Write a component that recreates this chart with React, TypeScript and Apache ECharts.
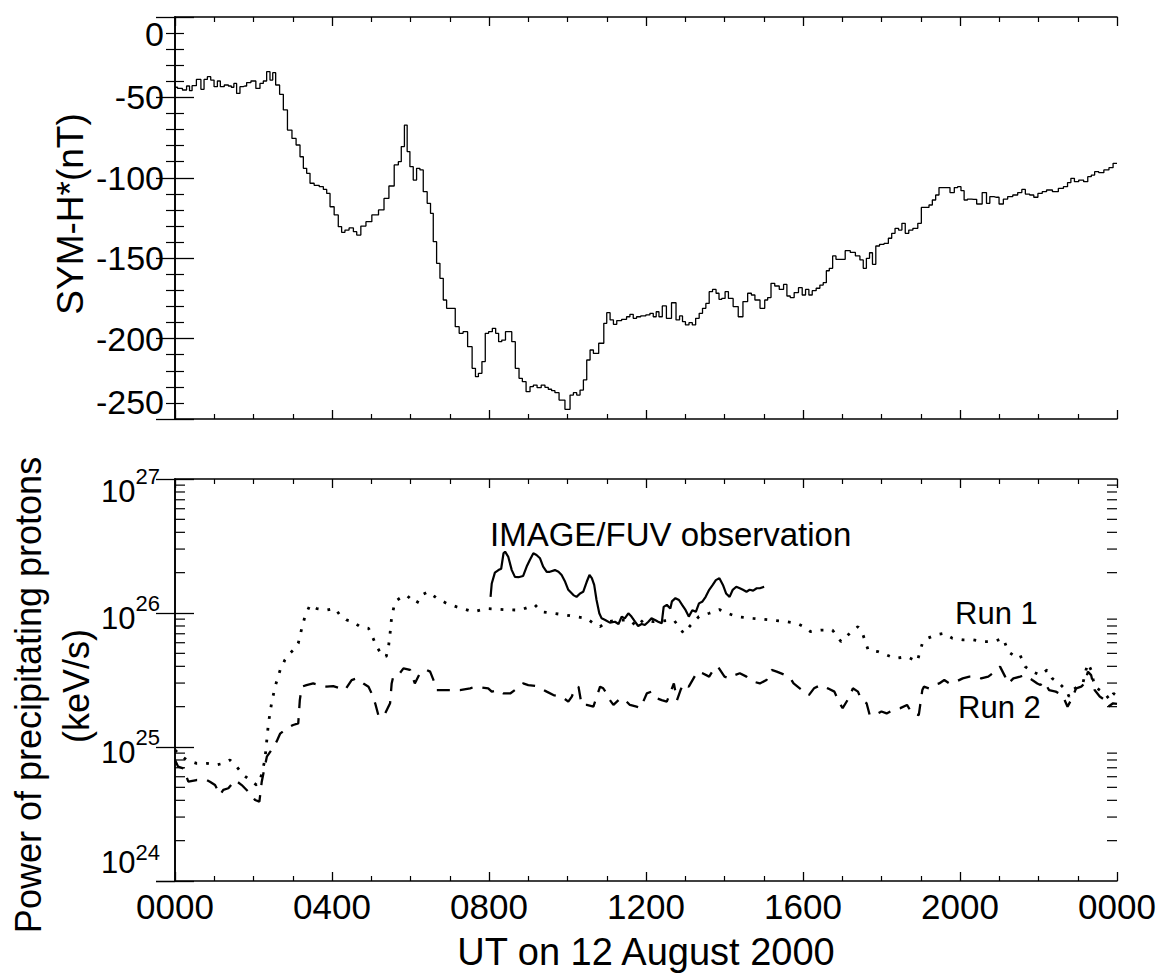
import React, { useEffect, useRef } from 'react';
import * as echarts from 'echarts';

const FONT = '"Liberation Sans", Arial, Helvetica, sans-serif';

// x tick labels (UT hours, every 4 h)
const xTickLabels = ['0000', '0400', '0800', '1200', '1600', '2000', '0000'];

// SYM-H* (nT), 5-min steps
const symHours = [0.00,0.13,0.25,0.34,0.40,0.47,0.62,0.70,0.78,0.87,0.95,1.04,1.12,1.19,1.32,1.40,1.47,1.53,1.61,1.70,1.78,1.87,2.00,2.12,2.21,2.29,2.38,2.46,2.52,2.61,2.72,2.80,2.93,3.03,3.14,3.23,3.31,3.40,3.48,3.61,3.74,3.82,3.91,3.99,4.12,4.20,4.29,4.37,4.50,4.59,4.67,4.80,4.93,5.10,5.27,5.38,5.52,5.65,5.73,5.80,5.89,5.94,6.03,6.11,6.20,6.28,6.37,6.48,6.54,6.62,6.71,6.79,6.88,6.96,7.09,7.19,7.29,7.39,7.52,7.62,7.69,7.77,7.87,7.94,8.04,8.13,8.21,8.28,8.37,8.47,8.54,8.62,8.72,8.81,8.89,9.00,9.09,9.17,9.28,9.38,9.47,9.55,9.64,9.72,9.85,10.02,10.11,10.19,10.28,10.36,10.45,10.53,10.62,10.70,10.89,10.96,11.04,11.13,11.21,11.30,11.46,11.55,11.63,11.72,11.80,11.93,12.06,12.14,12.23,12.29,12.37,12.46,12.58,12.72,12.81,12.90,12.96,13.05,13.14,13.22,13.31,13.40,13.48,13.57,13.65,13.74,13.83,13.89,13.97,14.06,14.14,14.30,14.40,14.54,14.64,14.73,14.82,14.99,15.06,15.14,15.23,15.33,15.46,15.55,15.63,15.72,15.83,15.94,16.02,16.11,16.19,16.28,16.39,16.47,16.56,16.63,16.71,16.80,16.88,17.01,17.14,17.27,17.40,17.50,17.57,17.66,17.73,17.81,17.90,18.00,18.13,18.22,18.30,18.39,18.48,18.56,18.65,18.74,18.86,18.99,19.04,19.17,19.25,19.34,19.42,19.51,19.68,19.81,19.90,19.98,20.07,20.14,20.24,20.35,20.50,20.63,20.72,20.80,20.93,21.06,21.15,21.28,21.41,21.53,21.62,21.71,21.84,21.92,22.05,22.14,22.27,22.44,22.57,22.70,22.78,22.87,22.96,23.09,23.21,23.30,23.39,23.47,23.60,23.73,23.86,23.94,24.00];
const symValues = [-43.7,-44.4,-45.4,-42.9,-45.8,-42.7,-38.8,-45.0,-38.8,-37.1,-39.2,-43.3,-39.8,-43.3,-42.3,-42.9,-43.7,-41.3,-47.5,-43.3,-42.9,-40.8,-39.8,-44.4,-41.3,-39.8,-34.0,-39.2,-34.6,-42.3,-48.1,-57.8,-70.3,-75.5,-79.6,-86.9,-94.1,-97.2,-103.4,-104.7,-105.5,-107.2,-109.7,-118.0,-123.1,-130.4,-133.9,-132.5,-131.2,-133.5,-135.6,-130.0,-127.3,-123.1,-120.0,-112.8,-105.1,-92.0,-90.0,-80.6,-67.2,-83.7,-93.1,-101.4,-94.1,-95.1,-108.6,-115.9,-122.1,-139.7,-153.2,-162.5,-176.0,-181.2,-181.2,-192.6,-196.7,-195.7,-205.0,-218.5,-223.7,-221.6,-214.3,-196.7,-195.7,-193.6,-196.7,-201.9,-200.9,-195.7,-195.7,-201.9,-218.5,-224.7,-226.8,-233.0,-229.9,-228.9,-230.5,-228.9,-230.3,-231.5,-232.4,-233.6,-238.2,-244.0,-235.1,-233.6,-235.1,-232.0,-225.7,-213.3,-207.1,-209.2,-202.9,-190.5,-183.9,-188.4,-191.1,-188.8,-188.0,-186.4,-184.9,-187.4,-186.4,-185.9,-185.3,-184.3,-186.4,-183.3,-186.4,-179.7,-187.4,-177.7,-188.4,-185.9,-189.5,-191.5,-190.1,-191.5,-187.4,-184.3,-181.2,-178.1,-170.8,-169.4,-171.8,-175.6,-175.0,-170.8,-175.0,-180.1,-186.4,-177.0,-171.8,-172.9,-176.0,-181.2,-176.0,-174.5,-165.6,-167.3,-169.4,-166.3,-173.5,-174.5,-171.4,-168.3,-172.9,-169.4,-172.9,-170.2,-168.7,-166.7,-165.2,-157.8,-156.3,-148.6,-150.7,-150.7,-145.3,-146.4,-148.6,-151.1,-156.3,-150.1,-146.6,-153.8,-142.4,-141.4,-140.8,-137.6,-134.5,-131.4,-132.5,-128.3,-134.5,-132.5,-131.4,-128.3,-118.4,-118.4,-116.9,-113.8,-110.7,-106.1,-106.1,-109.2,-106.1,-105.5,-108.0,-113.8,-113.2,-113.4,-116.3,-109.2,-115.9,-111.7,-112.1,-116.3,-113.2,-111.7,-110.7,-109.2,-107.2,-110.1,-110.7,-112.1,-109.7,-108.6,-107.6,-108.6,-106.6,-105.5,-103.0,-100.3,-102.4,-101.4,-102.4,-99.3,-98.3,-96.2,-96.8,-95.1,-93.7,-91.0,-91.0];

// IMAGE/FUV observation (keV/s)
const fuvHours = [8.04,8.07,8.15,8.24,8.31,8.37,8.41,8.49,8.58,8.66,8.75,8.87,8.96,9.04,9.13,9.21,9.30,9.38,9.47,9.55,9.68,9.77,9.85,9.94,10.02,10.15,10.23,10.32,10.40,10.49,10.56,10.62,10.68,10.74,10.81,10.87,10.96,11.08,11.21,11.30,11.38,11.46,11.55,11.63,11.72,11.80,11.89,11.97,12.06,12.14,12.23,12.31,12.40,12.45,12.53,12.62,12.66,12.75,12.84,12.92,13.01,13.09,13.18,13.27,13.35,13.44,13.52,13.61,13.70,13.78,13.87,13.96,14.04,14.13,14.21,14.30,14.39,14.47,14.56,14.64,14.73,14.82,14.90,15.01];
const fuvValues = [1.32e26,1.66e26,2.0e26,2.09e26,2.14e26,2.79e26,2.87e26,2.63e26,2.09e26,1.86e26,1.85e26,1.89e26,2.22e26,2.49e26,2.79e26,2.71e26,2.56e26,2.22e26,2.03e26,2.03e26,2.09e26,2.03e26,1.92e26,1.71e26,1.49e26,1.36e26,1.32e26,1.40e26,1.44e26,1.71e26,1.92e26,1.82e26,1.62e26,1.25e26,9.95e25,9.12e25,8.87e25,8.47e25,8.61e25,8.28e25,9.4e25,9.12e25,9.95e25,9.4e25,8.61e25,8.0e25,8.28e25,8.13e25,8.61e25,9.12e25,8.87e25,8.61e25,8.37e25,1.11e26,1.15e26,1.08e26,1.22e26,1.29e26,1.25e26,1.15e26,1.05e26,9.4e25,1.05e26,1.02e26,1.18e26,1.22e26,1.32e26,1.49e26,1.62e26,1.76e26,1.82e26,1.62e26,1.40e26,1.32e26,1.49e26,1.57e26,1.53e26,1.49e26,1.44e26,1.49e26,1.47e26,1.53e26,1.53e26,1.57e26];

// Run 1 (dotted)
const run1Hours = [0.00,0.13,0.30,0.55,0.81,1.06,1.23,1.40,1.57,1.74,1.91,2.08,2.17,2.29,2.38,2.46,2.55,2.68,2.80,2.93,3.06,3.14,3.23,3.31,3.44,3.61,3.86,4.08,4.20,4.37,4.54,4.71,4.93,5.01,5.14,5.27,5.38,5.44,5.48,5.52,5.61,5.73,5.90,6.03,6.16,6.28,6.45,6.67,6.92,7.18,7.60,7.94,8.37,8.79,9.17,9.34,9.64,10.06,10.49,10.66,10.83,11.00,11.34,11.59,11.76,11.93,12.19,12.71,12.96,13.14,13.35,13.61,13.87,14.08,14.30,14.73,15.16,15.59,15.85,16.02,16.19,16.45,16.75,16.97,17.19,17.40,17.53,17.66,17.92,18.13,18.35,18.65,18.91,19.04,19.17,19.38,19.60,19.81,20.07,20.33,20.59,20.85,21.10,21.23,21.41,21.53,21.66,21.84,22.05,22.22,22.35,22.53,22.70,22.78,22.87,23.00,23.13,23.21,23.26,23.34,23.43,23.56,23.69,23.82,23.91,24.00];
const run1Values = [9.5e24,8.71e24,8.0e24,7.55e24,7.55e24,7.35e24,7.55e24,8.0e24,7.13e24,6.18e24,5.67e24,5.2e24,5.67e24,8.0e24,1.5e25,2.12e25,2.82e25,3.76e25,4.47e25,5.0e25,5.45e25,5.94e25,7.69e25,9.4e25,1.15e26,1.08e26,1.05e26,1.08e26,9.66e25,8.87e25,8.61e25,7.91e25,7.69e25,6.86e25,5.61e25,4.86e25,4.72e25,5.61e25,7.05e25,9.4e25,1.22e26,1.29e26,1.36e26,1.25e26,1.18e26,1.36e26,1.44e26,1.29e26,1.18e26,1.11e26,1.02e26,1.08e26,1.06e26,1.05e26,1.15e26,1.02e26,9.95e25,9.55e25,9.12e25,8.37e25,7.91e25,8.61e25,8.87e25,8.87e25,7.91e25,8.87e25,8.61e25,8.87e25,7.05e25,8.13e25,9.4e25,9.95e25,1.06e26,9.95e25,9.4e25,9.12e25,8.87e25,8.61e25,8.37e25,7.91e25,7.26e25,7.46e25,7.46e25,6.11e25,7.05e25,7.91e25,6.86e25,5.3e25,5.14e25,4.86e25,4.59e25,4.72e25,4.34e25,5.94e25,6.47e25,6.86e25,7.05e25,6.47e25,6.3e25,6.3e25,6.11e25,6.11e25,6.47e25,5.14e25,4.72e25,4.86e25,3.98e25,3.65e25,3.44e25,3.76e25,3.25e25,2.98e25,2.66e25,2.38e25,2.66e25,2.82e25,2.98e25,3.76e25,4.21e25,3.76e25,2.82e25,2.66e25,2.51e25,2.24e25,2.51e25,2.4e25];

// Run 2 (dashed)
const run2Hours = [0.00,0.08,0.21,0.34,0.55,0.81,0.89,1.02,1.15,1.23,1.36,1.53,1.70,1.91,2.04,2.15,2.21,2.34,2.46,2.59,2.68,2.85,3.01,3.14,3.18,3.23,3.35,3.52,3.69,3.86,4.03,4.20,4.33,4.50,4.63,4.80,4.93,5.01,5.10,5.18,5.31,5.48,5.52,5.56,5.69,5.82,5.99,6.11,6.24,6.41,6.50,6.62,6.67,6.92,7.26,7.52,7.64,7.98,8.07,8.24,8.37,8.54,8.66,8.75,8.87,9.00,9.21,9.47,9.64,9.85,10.02,10.11,10.19,10.28,10.36,10.49,10.66,10.83,10.91,11.00,11.08,11.17,11.30,11.42,11.59,11.76,11.85,11.93,12.02,12.14,12.27,12.40,12.53,12.71,12.79,12.88,12.96,13.09,13.31,13.44,13.61,13.74,13.83,14.00,14.13,14.26,14.39,14.56,14.73,14.90,15.07,15.20,15.33,15.55,15.68,15.76,16.02,16.15,16.28,16.45,16.63,16.80,16.93,17.01,17.19,17.27,17.40,17.49,17.62,17.70,17.83,18.00,18.13,18.30,18.48,18.65,18.78,18.95,19.04,19.08,19.21,19.34,19.47,19.60,19.73,19.90,20.07,20.24,20.41,20.54,20.72,20.89,21.02,21.15,21.23,21.36,21.53,21.66,21.84,21.97,22.05,22.14,22.27,22.44,22.61,22.74,22.83,22.96,23.09,23.17,23.26,23.34,23.43,23.56,23.69,23.78,23.90,24.00];
const run2Values = [8.0e24,7.13e24,6.93e24,5.51e24,5.67e24,5.67e24,5.51e24,5.2e24,4.39e24,4.78e24,4.92e24,5.67e24,5.2e24,4.51e24,4.02e24,3.91e24,5.51e24,8.47e24,9.5e24,1.1e25,1.26e25,1.38e25,1.46e25,1.5e25,2.24e25,2.82e25,2.9e25,2.98e25,2.9e25,2.82e25,2.85e25,2.74e25,2.66e25,3.16e25,3.25e25,2.98e25,2.82e25,2.51e25,2.12e25,1.73e25,1.68e25,2.12e25,2.98e25,3.35e25,3.44e25,3.86e25,3.76e25,2.98e25,3.55e25,3.76e25,3.65e25,2.98e25,2.66e25,2.66e25,2.66e25,2.74e25,2.82e25,2.74e25,2.59e25,2.66e25,2.51e25,2.51e25,2.66e25,2.82e25,2.98e25,2.9e25,2.85e25,2.59e25,2.44e25,2.38e25,2.18e25,2.38e25,2.74e25,2.82e25,2.06e25,2.06e25,2.0e25,2.82e25,2.74e25,2.51e25,2.24e25,2.06e25,2.24e25,2.31e25,2.06e25,2.0e25,1.95e25,2.18e25,2.51e25,2.59e25,2.31e25,2.24e25,2.18e25,2.98e25,2.24e25,2.66e25,2.98e25,2.82e25,3.65e25,3.55e25,3.35e25,3.86e25,3.98e25,3.35e25,3.25e25,3.44e25,3.55e25,3.35e25,3.08e25,2.98e25,3.16e25,3.76e25,3.65e25,3.44e25,3.25e25,2.98e25,2.59e25,2.44e25,2.74e25,2.9e25,2.74e25,2.59e25,2.12e25,1.95e25,2.38e25,2.74e25,2.59e25,2.24e25,2.12e25,1.73e25,1.73e25,1.84e25,1.78e25,1.89e25,1.95e25,2.06e25,1.78e25,1.73e25,2.66e25,2.82e25,2.74e25,2.9e25,2.98e25,3.16e25,2.98e25,3.08e25,3.25e25,3.35e25,3.35e25,3.25e25,3.35e25,3.65e25,3.98e25,3.35e25,2.98e25,3.25e25,3.35e25,3.44e25,3.16e25,2.98e25,2.9e25,3.08e25,2.66e25,2.59e25,2.44e25,2.0e25,2.24e25,2.74e25,2.82e25,2.98e25,3.65e25,3.44e25,2.66e25,2.38e25,2.24e25,2.0e25,2.12e25,2.1e25];

// minor ticks of the log axis (2..9 per decade)
const logMinorTicks = [2e24,3e24,4e24,5e24,6e24,7e24,8e24,9e24,2e25,3e25,4e25,5e25,6e25,7e25,8e25,9e25,2e26,3e26,4e26,5e26,6e26,7e26,8e26,9e26];

export default function App() {
  const ref = useRef<HTMLDivElement>(null);

  useEffect(() => {
    const chart = echarts.init(ref.current as HTMLDivElement, null, { renderer: 'svg' });
    const zip = (a: number[], b: number[]) => a.map((h, i) => [h, b[i]]);
    const black = '#000';

    const xAxis = (gridIndex: number, position: string, showLabels: boolean) => ({
      type: 'value',
      gridIndex,
      position,
      min: 0,
      max: 24,
      interval: 4,
      axisLine: { show: true, onZero: false, lineStyle: { color: black, width: 1.6 } },
      axisTick: { show: true, inside: true, length: 9, lineStyle: { color: black, width: 1.3 } },
      minorTick: { show: true, splitNumber: 4, length: 5, lineStyle: { color: black, width: 1.2 } },
      splitLine: { show: false },
      minorSplitLine: { show: false },
      axisLabel: showLabels
        ? {
            show: true,
            margin: 8,
            color: black,
            fontSize: 35,
            fontFamily: FONT,
            formatter: (v: number) => xTickLabels[Math.round(v / 4)],
          }
        : { show: false },
    });

    const symAxis = (position: string, showLabels: boolean) => ({
      type: 'value',
      gridIndex: 0,
      position,
      min: -250,
      max: 0,
      interval: 50,
      axisLine: { show: true, lineStyle: { color: black, width: 1.6 } },
      axisTick: { show: true, inside: true, length: 19, lineStyle: { color: black, width: 1.3 } },
      minorTick: { show: true, splitNumber: 5, length: 9, lineStyle: { color: black, width: 1.2 } },
      splitLine: { show: false },
      minorSplitLine: { show: false },
      axisLabel: showLabels
        ? {
            show: true,
            margin: 11,
            color: black,
            fontSize: 34,
            fontFamily: FONT,
            verticalAlignMaxLabel: 'top',
            verticalAlignMinLabel: 'bottom',
          }
        : { show: false },
    });

    const b = { fontSize: 31, fontFamily: FONT, color: black };
    const s = { fontSize: 22, fontFamily: FONT, color: black, verticalAlign: 'top' };

    const logAxis = (position: string, showLabels: boolean) => ({
      type: 'log',
      logBase: 10,
      gridIndex: 1,
      position,
      min: 1e24,
      max: 1e27,
      axisLine: { show: true, lineStyle: { color: black, width: 1.6 } },
      axisTick: { show: true, inside: true, length: 19, lineStyle: { color: black, width: 1.3 } },
      minorTick: { show: false },
      splitLine: { show: false },
      axisLabel: showLabels
        ? {
            show: true,
            margin: 15,
            color: black,
            fontFamily: FONT,
            formatter: (v: number) => {
              const e = Math.round(Math.log10(v));
              if (e === 27) return `{bt|10}{st|${e}}`;
              if (e === 24) return `{bb|10}{sb|${e}}`;
              return `{b|10}{s|${e}}`;
            },
            rich: {
              b: { ...b, padding: [10, 0, 0, 0] },
              s,
              bt: { ...b, padding: [24, 0, 0, 0] },
              st: { ...s, padding: [14, 0, 0, 0] },
              bb: { ...b, padding: [10, 0, 48, 0] },
              sb: { ...s, padding: [5, 0, 0, 0] },
            },
          }
        : { show: false },
    });

    const textStyle = (size: number) => ({ fontSize: size, fontFamily: FONT, fill: black });

    const option: any = {
      animation: false,
      backgroundColor: '#fff',
      grid: [
        { left: 175, top: 17, width: 942, height: 402, outerBoundsMode: 'none', containLabel: false },
        { left: 175, top: 479, width: 942, height: 402, outerBoundsMode: 'none', containLabel: false },
      ],
      xAxis: [xAxis(0, 'bottom', false), xAxis(0, 'top', false), xAxis(1, 'bottom', true), xAxis(1, 'top', false)],
      yAxis: [symAxis('left', true), symAxis('right', false), logAxis('left', true), logAxis('right', false)],
      series: [
        {
          name: 'SYM-H*',
          type: 'line',
          xAxisIndex: 0,
          yAxisIndex: 0,
          step: 'middle',
          showSymbol: false,
          data: zip(symHours, symValues),
          lineStyle: { color: black, width: 1.3 },
        },
        {
          name: 'IMAGE/FUV observation',
          type: 'line',
          xAxisIndex: 2,
          yAxisIndex: 2,
          showSymbol: false,
          data: zip(fuvHours, fuvValues),
          lineStyle: { color: black, width: 2.2 },
        },
        {
          name: 'Run 1',
          type: 'line',
          xAxisIndex: 2,
          yAxisIndex: 2,
          showSymbol: false,
          data: zip(run1Hours, run1Values),
          lineStyle: { color: black, width: 2.8, type: [2.8, 9] },
        },
        {
          name: 'Run 2',
          type: 'line',
          xAxisIndex: 2,
          yAxisIndex: 2,
          showSymbol: false,
          data: zip(run2Hours, run2Values),
          lineStyle: { color: black, width: 2.3, type: [13, 10] },
        },
        {
          name: 'log minor ticks',
          type: 'custom',
          xAxisIndex: 2,
          yAxisIndex: 2,
          silent: true,
          clip: false,
          data: logMinorTicks.map((v) => [0, v]),
          renderItem: (params: any, api: any) => {
            const v = api.value(1);
            const l = api.coord([0, v]);
            const r = api.coord([24, v]);
            const st = { stroke: black, lineWidth: 1.2 };
            return {
              type: 'group',
              children: [
                { type: 'line', shape: { x1: l[0], y1: l[1], x2: l[0] + 10, y2: l[1] }, style: st },
                { type: 'line', shape: { x1: r[0] - 10, y1: r[1], x2: r[0], y2: r[1] }, style: st },
              ],
            };
          },
        },
      ],
      graphic: [
        {
          type: 'text',
          x: 70,
          y: 214,
          rotation: Math.PI / 2,
          style: { ...textStyle(37), text: 'SYM-H*(nT)', align: 'center', verticalAlign: 'middle' },
        },
        {
          type: 'text',
          x: 28,
          y: 695,
          rotation: Math.PI / 2,
          style: { ...textStyle(36), text: 'Power of precipitating protons', align: 'center', verticalAlign: 'middle' },
        },
        {
          type: 'text',
          x: 76,
          y: 686,
          rotation: Math.PI / 2,
          style: { ...textStyle(36), text: '(keV/s)', align: 'center', verticalAlign: 'middle' },
        },
        {
          type: 'text',
          x: 646,
          y: 952,
          style: { ...textStyle(38), text: 'UT on 12 August 2000', align: 'center', verticalAlign: 'middle' },
        },
        {
          type: 'text',
          x: 490,
          y: 534,
          style: { ...textStyle(33), text: 'IMAGE/FUV observation', align: 'left', verticalAlign: 'middle' },
        },
        {
          type: 'text',
          x: 955,
          y: 613,
          style: { ...textStyle(31), text: 'Run 1', align: 'left', verticalAlign: 'middle' },
        },
        {
          type: 'text',
          x: 958,
          y: 707,
          style: { ...textStyle(31), text: 'Run 2', align: 'left', verticalAlign: 'middle' },
        },
      ],
    };

    chart.setOption(option);
    return () => chart.dispose();
  }, []);

  return <div ref={ref} style={{ position: 'absolute', left: 0, top: 0, width: 1166, height: 976 }} />;
}
